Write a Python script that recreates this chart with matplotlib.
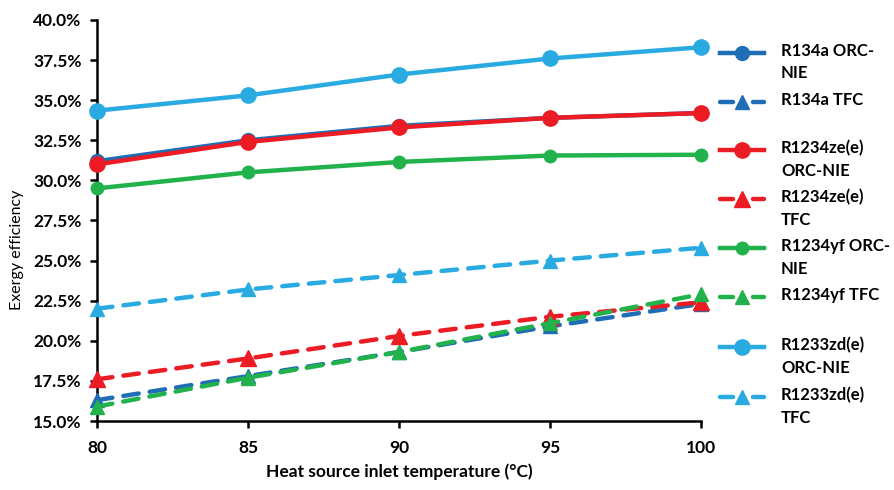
import matplotlib
matplotlib.use('Agg')
import matplotlib.pyplot as plt
from matplotlib.lines import Line2D
from matplotlib.ticker import PercentFormatter

plt.rcParams['font.family'] = ['Lato', 'DejaVu Sans']

# --- данные ---
temps = [80, 85, 90, 95, 100]

r134a_orc = [31.2, 32.5, 33.4, 33.9, 34.2]
r134a_tfc = [16.3, 17.8, 19.3, 20.9, 22.3]
r1234ze_orc = [31.0, 32.4, 33.3, 33.9, 34.2]
r1234ze_tfc = [17.6, 18.9, 20.3, 21.5, 22.4]
r1234yf_orc = [29.5, 30.5, 31.15, 31.55, 31.6]
r1234yf_tfc = [15.9, 17.7, 19.3, 21.1, 22.9]
r1233zd_orc = [34.35, 35.3, 36.6, 37.6, 38.3]
r1233zd_tfc = [22.0, 23.2, 24.1, 25.0, 25.8]

labels = ["R134a ORC-\nNIE", "R134a TFC",
          "R1234ze(e)\nORC-NIE", "R1234ze(e)\nTFC",
          "R1234yf ORC-\nNIE", "R1234yf TFC",
          "R1233zd(e)\nORC-NIE", "R1233zd(e)\nTFC"]
series = [r134a_orc, r134a_tfc, r1234ze_orc, r1234ze_tfc,
          r1234yf_orc, r1234yf_tfc, r1233zd_orc, r1233zd_tfc]

c_blue = '#1f6db5'
c_red = '#ec1c24'
c_green = '#22b24c'
c_light = '#29abe2'
colors = [c_blue, c_blue, c_red, c_red, c_green, c_green, c_light, c_light]
msizes = [10, 10, 11, 11, 9, 10, 11, 10]

fig = plt.figure(figsize=(8.94, 4.90), dpi=100)
ax = fig.add_axes([97/894, 1 - 421/490, 604/894, 401/490])

for i, vals in enumerate(series):
    tfc = (i % 2 == 1)
    ax.plot(temps, [v / 100 for v in vals], color=colors[i], lw=3.2,
            marker='^' if tfc else 'o', ms=msizes[i],
            ls=(0, (3.5, 2.5)) if tfc else '-',
            dash_capstyle='round', clip_on=False, zorder=3 + i)

ax.set_xlim(80, 100)
ax.set_ylim(0.15, 0.40)
ax.set_xticks(temps)
ax.set_yticks([0.15 + 0.025 * k for k in range(11)])
ax.yaxis.set_major_formatter(PercentFormatter(1.0, decimals=1))

for s in ['top', 'right']:
    ax.spines[s].set_visible(False)
for s in ['left', 'bottom']:
    ax.spines[s].set_linewidth(1.8)
ax.tick_params(direction='out', length=5, width=1.8, labelsize=12.5, pad=6)
for lab in ax.get_xticklabels() + ax.get_yticklabels():
    lab.set_fontweight('bold')
ax.tick_params(axis='x', pad=9)

ax.set_xlabel('Heat source inlet temperature (°C)', fontsize=12.5,
              fontweight='bold', labelpad=5)
fig.text(17/894, 1 - 250/490, 'Exergy efficiency', rotation=90,
         fontsize=11.5, ha='center', va='center')

# --- легенда вручную (как в Excel) ---
W, H = 894, 490
ys = [53, 102, 150, 199, 248, 297, 347, 397]
for i, y in enumerate(ys):
    tfc = (i % 2 == 1)
    fy = 1 - y / H
    if tfc:
        for xa, xb in [(720, 733), (753, 764)]:
            fig.add_artist(Line2D([xa / W, xb / W], [fy, fy], color=colors[i],
                                  lw=3.2, solid_capstyle='round'))
        fig.add_artist(Line2D([742 / W], [fy], color=colors[i], marker='^',
                              ms=msizes[i], lw=0))
    else:
        fig.add_artist(Line2D([720 / W, 764 / W], [fy, fy], color=colors[i],
                              lw=3.2))
        fig.add_artist(Line2D([742 / W], [fy], color=colors[i], marker='o',
                              ms=msizes[i], lw=0))
    fig.text(781 / W, 1 - (y - 10) / H, labels[i], fontsize=12,
             fontweight='bold', ha='left', va='top', linespacing=1.5)

fig.savefig('out.png', dpi=100)
